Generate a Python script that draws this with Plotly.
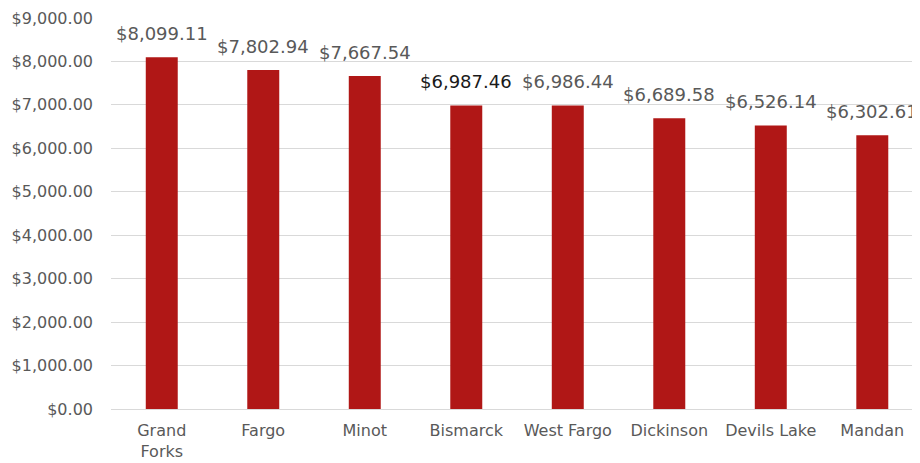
import plotly.graph_objects as go

# Data
cities = ["Grand<br>Forks", "Fargo", "Minot", "Bismarck", "West Fargo", "Dickinson", "Devils Lake", "Mandan"]
values = [8099.11, 7802.94, 7667.54, 6987.46, 6986.44, 6689.58, 6526.14, 6302.61]
y_ticks = [0, 1000, 2000, 3000, 4000, 5000, 6000, 7000, 8000, 9000]

FONT = "DejaVu Sans"
BAR_COLOR = "#B01716"

fig = go.Figure()
fig.add_trace(go.Bar(x=cities, y=values, marker_color=BAR_COLOR, marker_line_width=0))

# data labels above each bar
for i, (c, v) in enumerate(zip(cities, values)):
    fig.add_annotation(
        x=c, y=v, text=f"${v:,.2f}", showarrow=False,
        yanchor="bottom", yshift=11,
        font=dict(family=FONT, size=18, color="#1a1a1a" if i == 3 else "#595959"),
    )

# page body adds an 8px margin, so the figure is sized to fill the window after it
fig.update_layout(
    width=912, height=455,
    margin=dict(l=103, r=0, t=10, b=54),
    paper_bgcolor="white", plot_bgcolor="white",
    bargap=0.685, showlegend=False,
    font=dict(family=FONT, color="#595959"),
)
fig.update_xaxes(
    range=[-0.5, 7.47], showgrid=False, showline=False, automargin=False,
    tickfont=dict(family=FONT, size=16, color="#595959"),
    ticks="", ticklabelstandoff=10,
)
fig.update_yaxes(
    range=[0, 9000], tickvals=y_ticks, automargin=False,
    ticktext=[f"${t:,.2f}" for t in y_ticks],
    showgrid=True, gridcolor="#d9d9d9", gridwidth=1.3,
    zeroline=True, zerolinecolor="#d9d9d9", zerolinewidth=1.3,
    tickfont=dict(family=FONT, size=16, color="#595959"),
    ticks="", ticklabelstandoff=17,
)

fig.write_html("out.html")
